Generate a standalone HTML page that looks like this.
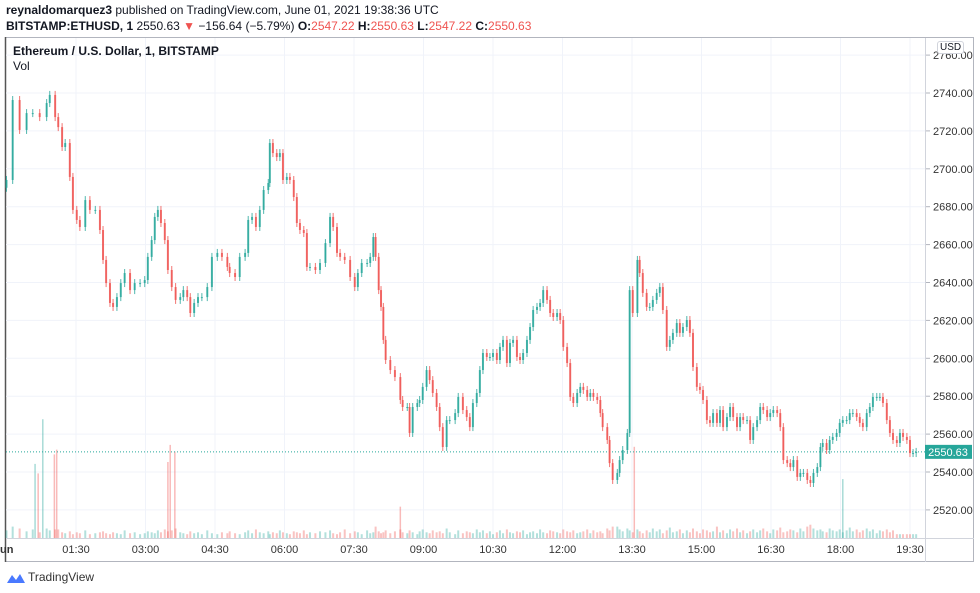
<!DOCTYPE html>
<html><head><meta charset="utf-8">
<style>
body{margin:0;width:980px;height:593px;background:#fff;font-family:"Liberation Sans",sans-serif;overflow:hidden;position:relative}
.t{position:absolute;white-space:nowrap;color:#131722}
</style></head><body>
<div class="t" style="left:6px;top:3px;font-size:12px"><b>reynaldomarquez3</b> published on TradingView.com, June 01, 2021 19:38:36 UTC</div>
<div class="t" style="left:6px;top:19px;font-size:12px"><b>BITSTAMP:ETHUSD, 1</b> 2550.63 <span style="color:#ef5350">▼</span> −156.64 (−5.79%) <b>O:</b><span style="color:#ef5350">2547.22</span> <b>H:</b><span style="color:#ef5350">2550.63</span> <b>L:</b><span style="color:#ef5350">2547.22</span> <b>C:</b><span style="color:#ef5350">2550.63</span></div>
<svg id="chart" width="980" height="593" style="position:absolute;left:0;top:0" xmlns="http://www.w3.org/2000/svg"></svg>
<div class="t" style="left:13px;top:44px;font-size:12px;font-weight:bold">Ethereum / U.S. Dollar, 1, BITSTAMP</div>
<div class="t" style="left:13px;top:59px;font-size:12px">Vol</div>
<div class="t" style="left:937px;top:41px;font-size:10px;border:1px solid #d1d4dc;border-radius:3px;padding:0 2px;background:#fff">USD</div>
<div style="position:absolute;left:6px;top:569px;height:16px">
<svg width="20" height="14" style="position:absolute;left:0;top:2px"><path d="M1 12 L6 4 L10 9 L14 3 L19 12 Z" fill="#2962ff" opacity="0.85"/></svg>
<span class="t" style="left:22px;top:1px;font-size:12px;color:#333">TradingView</span></div>
<script>
const times=[0,8,17,26,34,43,52,56,63,67,72,76,82,86,91,95,102,108,115,121,125,129,134,138,143,148,153,160,166,173,179,183,188,192,196,200,205,209,214,219,225,229,234,238,243,248,253,260,266,273,279,286,289,296,302,309,313,318,323,328,333,339,341,345,350,354,358,363,367,372,376,380,385,389,393,400,406,413,419,423,428,432,438,445,451,455,460,467,471,475,478,482,485,488,491,497,503,510,513,519,522,526,532,535,539,544,548,552,557,561,565,570,574,581,585,591,596,600,604,609,613,617,622,626,630,635,639,643,648,652,656,661,665,669,674,678,682,687,691,695,700,704,708,713,717,721,726,730,734,739,743,747,752,756,760,765,769,772,778,781,785,791,794,798,804,807,811,817,820,824,829,833,837,842,846,850,855,859,863,868,872,876,881,885,889,894,898,902,907,911,915,920,924,928,933,937,941,946,950,954,959,963,967,972,976,980,985,989,993,998,1002,1006,1011,1015,1019,1024,1028,1032,1037,1041,1045,1050,1054,1057,1062,1066,1070,1075,1079,1083,1088,1092,1096,1101,1105,1109,1114,1118,1122,1127,1131,1135,1140,1144,1148,1153,1157,1161,1166,1170,1174,1178];
const closes=[2694.1,2736.3,2720.5,2729.4,2729.4,2727.3,2734.7,2739.0,2727.3,2722.0,2711.5,2713.6,2695.7,2678.3,2673.0,2669.3,2683.5,2678.3,2678.3,2667.7,2651.9,2639.7,2629.2,2627.1,2632.3,2639.7,2645.0,2636.0,2639.7,2639.7,2641.3,2653.5,2662.4,2674.6,2678.3,2671.4,2662.4,2646.6,2637.6,2630.8,2632.3,2636.0,2632.3,2623.9,2629.2,2632.3,2632.3,2637.6,2653.5,2655.6,2653.5,2648.2,2645.0,2642.9,2653.5,2655.6,2673.0,2674.6,2669.3,2678.3,2688.8,2692.5,2713.6,2708.3,2706.2,2708.3,2694.1,2695.7,2694.1,2685.1,2671.4,2667.7,2666.1,2648.2,2648.2,2646.6,2650.3,2660.8,2674.6,2669.3,2655.6,2653.5,2651.9,2642.9,2637.6,2645.0,2650.3,2650.3,2653.5,2664.0,2653.5,2636.0,2627.1,2609.7,2599.1,2593.8,2590.1,2578.0,2574.3,2574.3,2560.6,2574.3,2576.4,2578.0,2584.9,2593.8,2588.5,2581.7,2574.3,2563.7,2553.2,2567.4,2567.4,2571.1,2579.6,2572.7,2569.0,2563.7,2576.4,2581.7,2593.8,2602.8,2600.7,2600.7,2602.8,2599.1,2606.0,2609.7,2597.5,2608.1,2609.7,2600.7,2599.1,2602.8,2609.7,2616.5,2625.5,2627.1,2629.2,2636.0,2630.8,2623.9,2621.8,2623.9,2620.2,2606.0,2597.5,2579.6,2576.4,2581.7,2584.9,2583.3,2579.6,2581.7,2579.6,2578.0,2571.1,2563.7,2556.9,2544.7,2535.8,2539.5,2546.3,2551.6,2560.6,2636.0,2623.9,2651.9,2645.0,2634.5,2627.1,2627.1,2630.8,2634.5,2637.6,2625.5,2606.0,2609.7,2613.4,2618.6,2613.4,2616.5,2620.2,2613.4,2595.4,2584.9,2583.3,2578.0,2567.4,2565.9,2571.1,2565.9,2572.7,2563.7,2569.0,2574.3,2569.0,2563.7,2569.0,2567.4,2567.4,2556.9,2563.7,2567.4,2574.3,2572.7,2569.0,2571.1,2572.7,2571.1,2563.7,2546.3,2544.7,2542.6,2546.3,2537.4,2539.5,2539.5,2535.8,2534.2,2539.5,2542.6,2553.2,2555.3,2551.6,2556.9,2558.5,2560.6,2565.9,2567.4,2567.4,2571.1,2571.1,2569.0,2565.9,2563.7,2571.1,2574.3,2579.6,2579.6,2579.6,2576.4,2567.4,2560.6,2556.9,2555.3,2560.6,2558.5,2556.9,2550.0,2550.0,2550.6];
const volumes=[8,12,10,7,9,6,10,8,9,9,6,5,7,4,6,5,8,4,5,6,7,5,4,6,5,4,8,5,6,4,5,7,6,5,8,6,9,7,8,10,6,5,4,7,5,6,4,8,5,4,6,5,7,5,4,6,8,5,9,6,5,7,4,6,5,8,6,5,4,7,6,5,8,4,6,5,7,6,8,5,4,6,9,5,7,6,4,8,5,6,12,7,5,6,8,5,7,9,6,5,8,6,4,7,9,6,5,8,6,7,5,10,6,4,8,5,7,6,5,9,6,8,5,7,4,6,8,5,9,6,5,7,6,8,4,6,7,5,9,6,5,8,7,6,5,9,7,6,8,5,6,7,9,5,8,6,7,5,10,8,12,12,9,7,10,8,6,9,7,5,8,6,10,7,9,5,8,11,6,7,9,5,8,6,10,7,5,9,8,6,7,12,6,8,5,9,7,10,6,8,5,7,9,6,8,10,7,5,9,8,11,6,7,9,8,6,10,7,12,14,10,8,9,7,6,10,8,7,9,6,8,11,7,9,6,8,10,7,9,5,8,7,9,6,8];
const spikeTimes=[37,41,47,62,65,209,212,218,510,813,1083];
const spikeValues=[78,68,125,88,93,80,98,91,33,96,62];
const spikeUp=[1,0,1,0,0,0,0,0,0,0,1];
const priceTicks=[2520,2540,2560,2580,2600,2620,2640,2660,2680,2700,2720,2740,2760];
const timeTicks=[90,180,270,360,450,540,630,720,810,900,990,1080,1170];
const timeLabels=["01:30","03:00","04:30","06:00","07:30","09:00","10:30","12:00","13:30","15:00","16:30","18:00","19:30"];
const lastPrice=2550.63;

const svg=document.getElementById('chart');
const NS='http://www.w3.org/2000/svg';
const xS=m=>76+(m-90)*0.7722;
const yS=p=>93+(2740-p)*1.895;
const vS=v=>538-v*0.95;
function mk(tag,attrs,parent){const e=document.createElementNS(NS,tag);for(const k in attrs)e.setAttribute(k,attrs[k]);(parent||svg).appendChild(e);return e;}

const frame=mk('rect',{x:5.5,y:37.5,width:968,height:524,fill:'none',stroke:'#b2b5be'});


const lb=mk('line',{x1:5.5,y1:37,x2:5.5,y2:562,stroke:'#555','stroke-width':1.5});


priceTicks.forEach(p=>{const y=yS(p);if(y<38)return;
 const g=mk('line',{x1:6,y1:y,x2:925,y2:y,stroke:'#f0f3fa'});
 
 
 const tk=mk('line',{x1:925,y1:y,x2:930,y2:y,stroke:'#b2b5be'});
 
 
 const t=mk('text',{x:933,y:y+4,'font-size':11,fill:'#333','font-family':'Liberation Sans, sans-serif'});
 t.textContent=p.toFixed(2);
 
 
});
timeTicks.forEach((m,i)=>{const x=xS(m);
 const g=mk('line',{x1:x,y1:38,x2:x,y2:538,stroke:'#f0f3fa'});
 
 
 const t=mk('text',{x:x,y:553,'font-size':11,fill:'#333','text-anchor':'middle','font-family':'Liberation Sans, sans-serif'});
 t.textContent=timeLabels[i];
 
 
});
const jt=mk('text',{x:0,y:553,'font-size':11,fill:'#333','font-weight':'bold','font-family':'Liberation Sans, sans-serif'});
jt.textContent='un';


const pa=mk('line',{x1:925.5,y1:38,x2:925.5,y2:562,stroke:'#d1d4dc'});


const ta=mk('line',{x1:6,y1:538.5,x2:974,y2:538.5,stroke:'#d1d4dc'});


const vg=mk('g',{});


times.forEach((m,i)=>{const v=volumes[i]||4;const o=i?closes[i-1]:closes[0];const up=closes[i]>=o;
 const y=vS(v);
 const b=mk('rect',{x:xS(m)-1,y:y,width:2,height:538-y,fill:up?'#26a69a':'#ef5350',opacity:0.35},vg);
 
 
});
spikeTimes.forEach((m,i)=>{const y=vS(spikeValues[i]);
 const b=mk('rect',{x:xS(m)-0.75,y:y,width:1.5,height:538-y,fill:spikeUp[i]?'#26a69a':'#ef5350',opacity:0.4},vg);
 
 
});
const ll=mk('line',{x1:6,y1:yS(lastPrice),x2:925,y2:yS(lastPrice),stroke:'#26a69a','stroke-dasharray':'1,2'});


const cg=mk('g',{});


times.forEach((m,i)=>{const o=i?closes[i-1]:2690;const c=closes[i];const up=c>=o;
 const x=xS(m);const y1=yS(Math.max(o,c)),y2=yS(Math.min(o,c));
 const col=up?'#26a69a':'#ef5350';
 const w=mk('line',{x1:x,y1:y1-4,x2:x,y2:y2+4,stroke:col,'stroke-width':1,opacity:0.8},cg);
 
 
 const b=mk('rect',{x:x-1,y:y1,width:2,height:Math.max(1,y2-y1),fill:col,opacity:0.8},cg);
 
 
});
const ly=yS(lastPrice);
const lr=mk('rect',{x:925,y:ly-7,width:47,height:14,fill:'#26a69a'});


const lt=mk('text',{x:948,y:ly+4,'font-size':11,fill:'#fff','text-anchor':'middle','font-family':'Liberation Sans, sans-serif'});
lt.textContent=lastPrice.toFixed(2);


</script>
</body></html>
